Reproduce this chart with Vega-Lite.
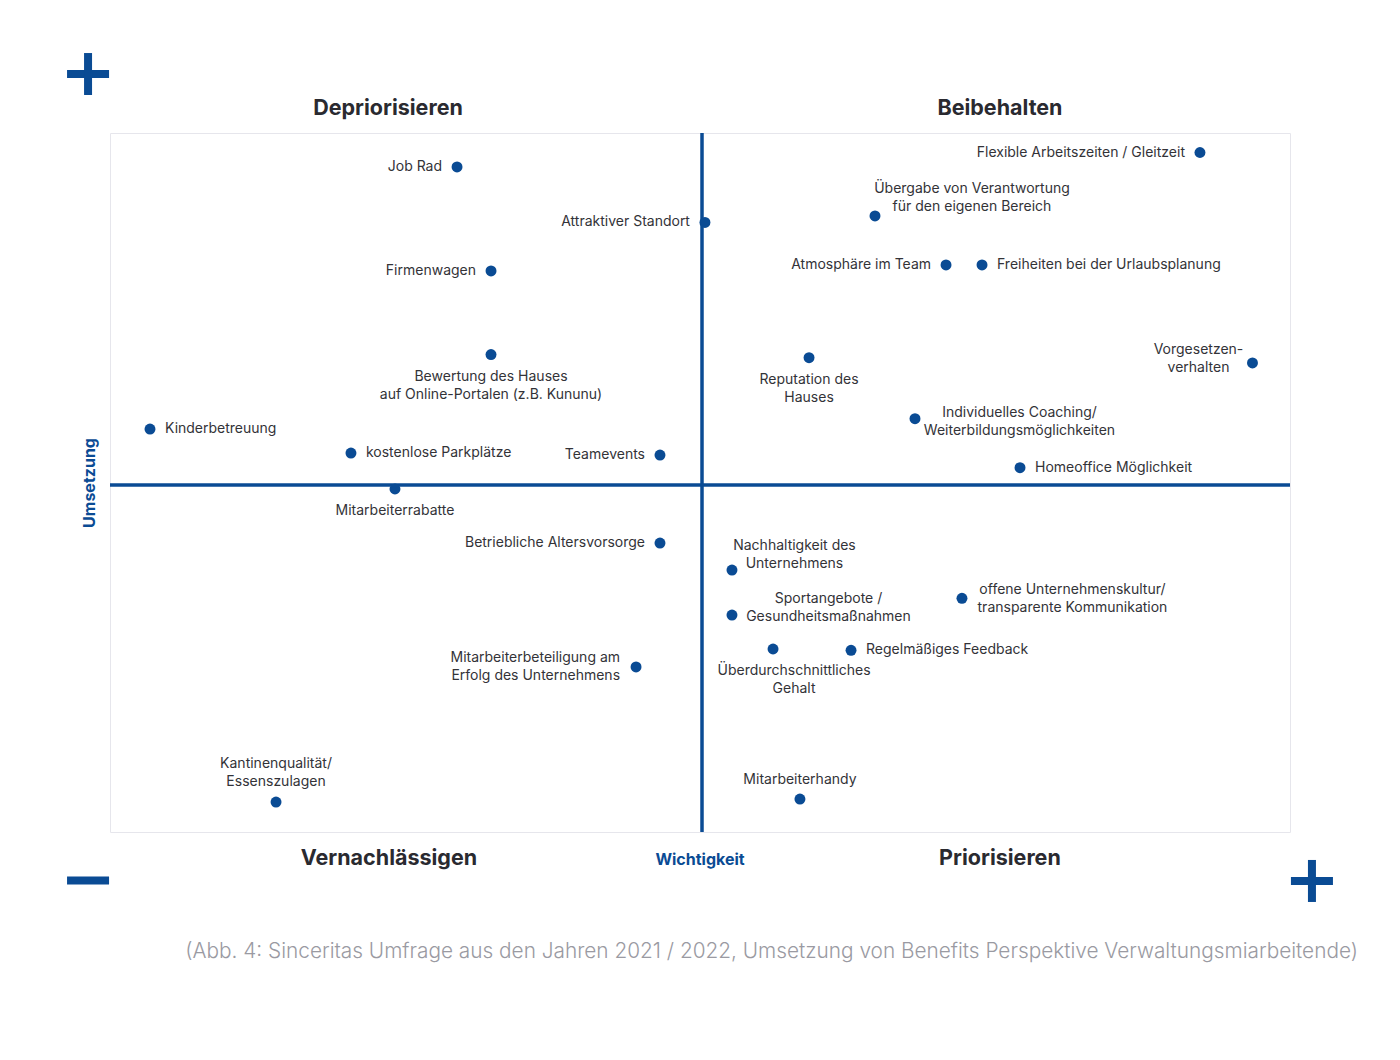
{
  "$schema": "https://vega.github.io/schema/vega-lite/v6.json",
  "width": 1180,
  "height": 699,
  "autosize": {"type": "none"},
  "padding": {"left": 110, "top": 133, "right": 110, "bottom": 228},
  "background": "#ffffff",
  "config": {
    "view": {"stroke": "#e6e6ec", "strokeWidth": 1},
    "text": {"font": "Inter", "lineBreak": "\n", "lineHeight": 18}
  },
  "datasets": {
    "points": [
      {"name": "Job Rad", "x": 29.41, "y": 95.14},
      {"name": "Attraktiver Standort", "x": 50.42, "y": 87.2},
      {"name": "Firmenwagen", "x": 32.29, "y": 80.26},
      {"name": "Bewertung des Hauses\nauf Online-Portalen (z.B. Kununu)", "x": 32.29, "y": 68.31},
      {"name": "Kinderbetreuung", "x": 3.39, "y": 57.65},
      {"name": "kostenlose Parkplätze", "x": 20.42, "y": 54.22},
      {"name": "Teamevents", "x": 46.61, "y": 53.93},
      {"name": "Mitarbeiterrabatte", "x": 24.15, "y": 49.07},
      {"name": "Betriebliche Altersvorsorge", "x": 46.61, "y": 41.34},
      {"name": "Mitarbeiterbeteiligung am\nErfolg des Unternehmens", "x": 44.58, "y": 23.61},
      {"name": "Kantinenqualität/\nEssenszulagen", "x": 14.07, "y": 4.29},
      {"name": "Flexible Arbeitszeiten / Gleitzeit", "x": 92.37, "y": 97.21},
      {"name": "Übergabe von Verantwortung\nfür den eigenen Bereich", "x": 64.83, "y": 88.13},
      {"name": "Atmosphäre im Team", "x": 70.85, "y": 81.12},
      {"name": "Freiheiten bei der Urlaubsplanung", "x": 73.9, "y": 81.12},
      {"name": "Reputation des\nHauses", "x": 59.24, "y": 67.85},
      {"name": "Vorgesetzen-\nverhalten", "x": 96.82, "y": 67.1},
      {"name": "Individuelles Coaching/\nWeiterbildungsmöglichkeiten", "x": 68.22, "y": 59.13},
      {"name": "Homeoffice Möglichkeit", "x": 77.12, "y": 52.12},
      {"name": "Nachhaltigkeit des\nUnternehmens", "x": 52.71, "y": 37.48},
      {"name": "Sportangebote /\nGesundheitsmaßnahmen", "x": 52.71, "y": 31.04},
      {"name": "offene Unternehmenskultur/\ntransparente Kommunikation", "x": 72.2, "y": 33.43},
      {"name": "Überdurchschnittliches\nGehalt", "x": 56.19, "y": 26.18},
      {"name": "Regelmäßiges Feedback", "x": 62.8, "y": 25.99},
      {"name": "Mitarbeiterhandy", "x": 58.47, "y": 4.72}
    ],
    "quadrantLines": [
      {"x": 50.17, "x2": 50.17, "y": 0, "y2": 100},
      {"x": 0, "x2": 100, "y": 49.64, "y2": 49.64}
    ],
    "signs": [
      {"x": -3.64, "x2": -0.08, "y": 108.44, "y2": 108.44},
      {"x": -1.86, "x2": -1.86, "y": 111.44, "y2": 105.44},
      {"x": -3.64, "x2": -0.08, "y": -6.94, "y2": -6.94},
      {"x": 100.08, "x2": 103.64, "y": -7.01, "y2": -7.01},
      {"x": 101.86, "x2": 101.86, "y": -4.0, "y2": -10.01}
    ],
    "quadrantTitles": [
      {"text": "Depriorisieren", "x": 23.56, "y": 103.5},
      {"text": "Beibehalten", "x": 75.42, "y": 103.5},
      {"text": "Vernachlässigen", "x": 23.64, "y": -3.8},
      {"text": "Priorisieren", "x": 75.42, "y": -3.8}
    ],
    "xTitle": [{"text": "Wichtigkeit", "x": 50.0, "y": -4.0}],
    "yTitle": [{"text": "Umsetzung", "x": -1.695, "y": 49.93}],
    "caption": [{"text": "(Abb. 4: Sinceritas Umfrage aus den Jahren 2021 / 2022, Umsetzung von Benefits Perspektive Verwaltungsmiarbeitende)", "x": 105.76, "y": -17.17}]
  },
  "encoding": {
    "x": {"field": "x", "type": "quantitative", "scale": {"domain": [0, 100], "nice": false, "zero": false}, "axis": null},
    "y": {"field": "y", "type": "quantitative", "scale": {"domain": [0, 100], "nice": false, "zero": false}, "axis": null}
  },
  "layer": [
    {
      "data": {"name": "quadrantLines"},
      "mark": {"type": "rule", "color": "#0a4b94", "strokeWidth": 3.5, "clip": false},
      "encoding": {"x2": {"field": "x2"}, "y2": {"field": "y2"}}
    },
    {
      "data": {"name": "signs"},
      "mark": {"type": "rule", "color": "#0a4b94", "strokeWidth": 8, "strokeCap": "butt", "clip": false},
      "encoding": {"x2": {"field": "x2"}, "y2": {"field": "y2"}}
    },
    {
      "data": {"name": "points"},
      "mark": {"type": "point", "filled": true, "shape": "circle", "size": 120, "color": "#0a4b94", "opacity": 1, "clip": false}
    },
    {
      "data": {"name": "points"},
      "transform": [{"filter": {"field": "name", "oneOf": ["Job Rad", "Attraktiver Standort", "Firmenwagen", "Teamevents", "Betriebliche Altersvorsorge", "Flexible Arbeitszeiten / Gleitzeit", "Atmosphäre im Team"]}}],
      "mark": {"type": "text", "align": "right", "baseline": "middle", "dx": -15, "fontSize": 14, "color": "#333338"},
      "encoding": {"text": {"field": "name"}}
    },
    {
      "data": {"name": "points"},
      "transform": [{"filter": {"field": "name", "equal": "Mitarbeiterbeteiligung am\nErfolg des Unternehmens"}}],
      "mark": {"type": "text", "align": "right", "baseline": "middle", "dx": -16, "dy": -9, "fontSize": 14, "color": "#333338"},
      "encoding": {"text": {"field": "name"}}
    },
    {
      "data": {"name": "points"},
      "transform": [{"filter": {"field": "name", "oneOf": ["Kinderbetreuung", "kostenlose Parkplätze", "Freiheiten bei der Urlaubsplanung", "Homeoffice Möglichkeit", "Regelmäßiges Feedback"]}}],
      "mark": {"type": "text", "align": "left", "baseline": "middle", "dx": 15, "fontSize": 14, "color": "#333338"},
      "encoding": {"text": {"field": "name"}}
    },
    {
      "data": {"name": "points"},
      "transform": [{"filter": {"field": "name", "oneOf": ["Bewertung des Hauses\nauf Online-Portalen (z.B. Kununu)", "Mitarbeiterrabatte", "Reputation des\nHauses"]}}],
      "mark": {"type": "text", "align": "center", "baseline": "top", "dy": 15, "fontSize": 14, "color": "#333338"},
      "encoding": {"text": {"field": "name"}}
    },
    {
      "data": {"name": "points"},
      "transform": [{"filter": {"field": "name", "equal": "Überdurchschnittliches\nGehalt"}}],
      "mark": {"type": "text", "align": "center", "baseline": "top", "dx": 21, "dy": 15, "fontSize": 14, "color": "#333338"},
      "encoding": {"text": {"field": "name"}}
    },
    {
      "data": {"name": "points"},
      "transform": [{"filter": {"field": "name", "equal": "Mitarbeiterhandy"}}],
      "mark": {"type": "text", "align": "center", "baseline": "bottom", "dy": -12, "fontSize": 14, "color": "#333338"},
      "encoding": {"text": {"field": "name"}}
    },
    {
      "data": {"name": "points"},
      "transform": [{"filter": {"field": "name", "equal": "Kantinenqualität/\nEssenszulagen"}}],
      "mark": {"type": "text", "align": "center", "baseline": "bottom", "dy": -31, "fontSize": 14, "color": "#333338"},
      "encoding": {"text": {"field": "name"}}
    },
    {
      "data": {"name": "points"},
      "transform": [{"filter": {"field": "name", "equal": "Übergabe von Verantwortung\nfür den eigenen Bereich"}}],
      "mark": {"type": "text", "align": "center", "baseline": "middle", "dx": 97, "dy": -27, "fontSize": 14, "color": "#333338"},
      "encoding": {"text": {"field": "name"}}
    },
    {
      "data": {"name": "points"},
      "transform": [{"filter": {"field": "name", "equal": "Vorgesetzen-\nverhalten"}}],
      "mark": {"type": "text", "align": "center", "baseline": "middle", "dx": -54, "dy": -13, "fontSize": 14, "color": "#333338"},
      "encoding": {"text": {"field": "name"}}
    },
    {
      "data": {"name": "points"},
      "transform": [{"filter": {"field": "name", "equal": "Individuelles Coaching/\nWeiterbildungsmöglichkeiten"}}],
      "mark": {"type": "text", "align": "center", "baseline": "middle", "dx": 104.5, "dy": -5.5, "fontSize": 14, "color": "#333338"},
      "encoding": {"text": {"field": "name"}}
    },
    {
      "data": {"name": "points"},
      "transform": [{"filter": {"field": "name", "equal": "Nachhaltigkeit des\nUnternehmens"}}],
      "mark": {"type": "text", "align": "center", "baseline": "middle", "dx": 62.5, "dy": -24, "fontSize": 14, "color": "#333338"},
      "encoding": {"text": {"field": "name"}}
    },
    {
      "data": {"name": "points"},
      "transform": [{"filter": {"field": "name", "equal": "Sportangebote /\nGesundheitsmaßnahmen"}}],
      "mark": {"type": "text", "align": "center", "baseline": "middle", "dx": 96.5, "dy": -15.7, "fontSize": 14, "color": "#333338"},
      "encoding": {"text": {"field": "name"}}
    },
    {
      "data": {"name": "points"},
      "transform": [{"filter": {"field": "name", "equal": "offene Unternehmenskultur/\ntransparente Kommunikation"}}],
      "mark": {"type": "text", "align": "center", "baseline": "middle", "dx": 110.5, "dy": -8.4, "fontSize": 14, "color": "#333338"},
      "encoding": {"text": {"field": "name"}}
    },
    {
      "data": {"name": "quadrantTitles"},
      "mark": {"type": "text", "align": "center", "baseline": "middle", "fontSize": 21.5, "fontWeight": 700, "color": "#2a2a30", "clip": false},
      "encoding": {"text": {"field": "text"}}
    },
    {
      "data": {"name": "xTitle"},
      "mark": {"type": "text", "align": "center", "baseline": "middle", "fontSize": 16, "fontWeight": 700, "color": "#0a4b94", "clip": false},
      "encoding": {"text": {"field": "text"}}
    },
    {
      "data": {"name": "yTitle"},
      "mark": {"type": "text", "align": "center", "baseline": "middle", "angle": 270, "fontSize": 16, "fontWeight": 700, "color": "#0a4b94", "clip": false},
      "encoding": {"text": {"field": "text"}}
    },
    {
      "data": {"name": "caption"},
      "mark": {"type": "text", "align": "right", "baseline": "middle", "fontSize": 20.8, "fontWeight": 300, "color": "#9a9aa2", "clip": false},
      "encoding": {"text": {"field": "text"}}
    }
  ]
}
